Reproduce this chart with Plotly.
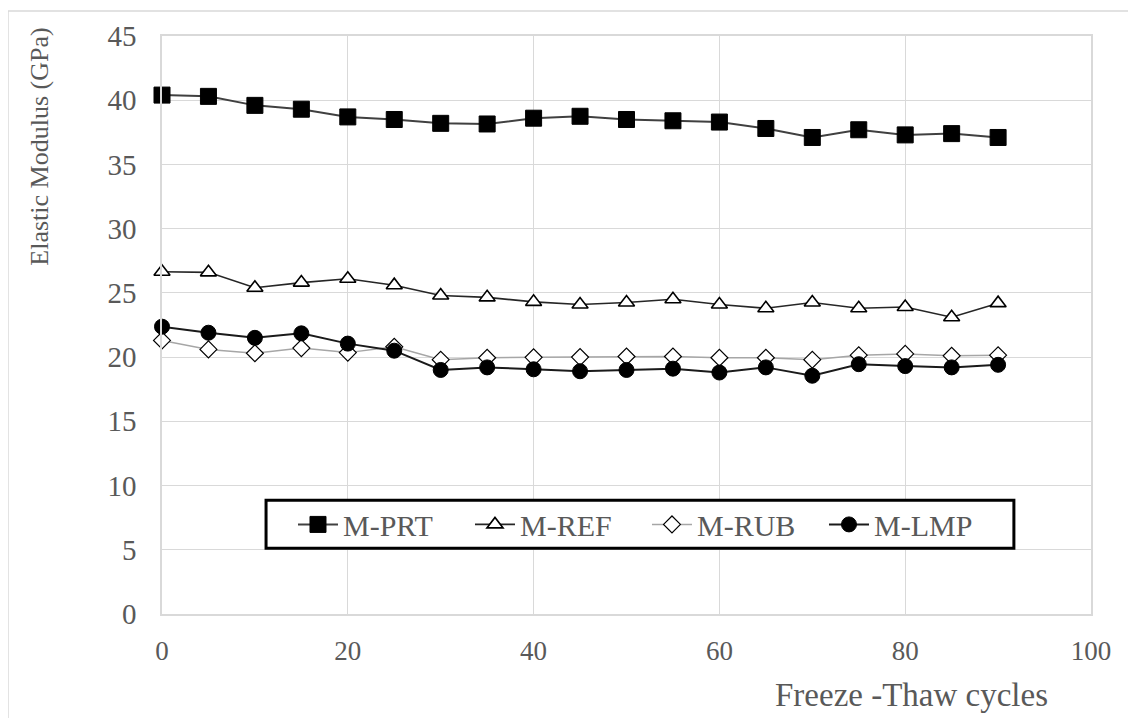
import plotly.graph_objects as go

cycles = [0, 5, 10, 15, 20, 25, 30, 35, 40, 45, 50, 55, 60, 65, 70, 75, 80, 85, 90]
m_prt = [40.4, 40.3, 39.6, 39.3, 38.7, 38.5, 38.2, 38.15, 38.6, 38.75, 38.5, 38.4, 38.3, 37.8, 37.1, 37.7, 37.3, 37.4, 37.1]
m_ref = [26.65, 26.6, 25.4, 25.8, 26.1, 25.6, 24.8, 24.65, 24.3, 24.1, 24.25, 24.5, 24.1, 23.8, 24.25, 23.8, 23.9, 23.1, 24.2]
m_rub = [21.3, 20.6, 20.3, 20.7, 20.35, 20.8, 19.8, 19.95, 19.98, 20.0, 20.05, 20.05, 19.95, 19.95, 19.8, 20.15, 20.25, 20.1, 20.15]
m_lmp = [22.37, 21.9, 21.5, 21.85, 21.05, 20.5, 19.0, 19.2, 19.05, 18.9, 19.0, 19.1, 18.8, 19.2, 18.55, 19.45, 19.3, 19.2, 19.4]

series_names = ["M-PRT", "M-REF", "M-RUB", "M-LMP"]
x_ticks = [0, 20, 40, 60, 80, 100]
y_ticks = [0, 5, 10, 15, 20, 25, 30, 35, 40, 45]

FONT = "Liberation Serif"
TXT = "#595959"
GRID = "#d9d9d9"

fig = go.Figure()
fig.add_trace(go.Scatter(
    x=cycles, y=m_prt, name=series_names[0], mode="lines+markers", cliponaxis=False,
    line=dict(color="#404040", width=2),
    marker=dict(symbol="square", size=16, color="black", line=dict(color="black", width=1))))
fig.add_trace(go.Scatter(
    x=cycles, y=m_ref, name=series_names[1], mode="lines+markers", cliponaxis=False,
    line=dict(color="#262626", width=1.6),
    marker=dict(symbol="triangle-up", size=14, color="white", line=dict(color="black", width=1.6))))
fig.add_trace(go.Scatter(
    x=cycles, y=m_rub, name=series_names[2], mode="lines+markers", cliponaxis=False,
    line=dict(color="#a6a6a6", width=1.5),
    marker=dict(symbol="diamond", size=13, color="white", line=dict(color="black", width=1.2))))
fig.add_trace(go.Scatter(
    x=cycles, y=m_lmp, name=series_names[3], mode="lines+markers", cliponaxis=False,
    line=dict(color="#1a1a1a", width=2),
    marker=dict(symbol="circle", size=15, color="black", line=dict(color="black", width=1))))

fig.update_layout(
    width=1128, height=710,
    margin=dict(l=154, r=45, t=26, b=104),
    paper_bgcolor="white", plot_bgcolor="white",
    font=dict(family=FONT, color=TXT),
    showlegend=True,
    legend=dict(
        orientation="h", x=0.141, y=0.155, xanchor="left", yanchor="middle",
        bgcolor="rgba(0,0,0,0)", borderwidth=0,
        font=dict(family=FONT, size=30, color=TXT),
        entrywidth=122, entrywidthmode="pixels",
        itemwidth=40,
    ),
    xaxis=dict(
        range=[0, 100], tickvals=x_ticks, showgrid=True, gridcolor=GRID, gridwidth=1.3,
        showline=True, linecolor=GRID, linewidth=1.5, mirror=True, zeroline=False,
        ticks="", tickfont=dict(family=FONT, size=27, color=TXT), ticklabelstandoff=12,
    ),
    yaxis=dict(
        range=[0, 45], tickvals=y_ticks, showgrid=True, gridcolor=GRID, gridwidth=1.3,
        showline=True, linecolor=GRID, linewidth=1.5, mirror=True, zeroline=False,
        ticks="", tickfont=dict(family=FONT, size=29, color=TXT), ticklabelstandoff=18,
    ),
    annotations=[
        dict(text="Elastic Modulus (GPa)", xref="paper", yref="paper", x=-0.1313, y=0.8086,
             textangle=-90, showarrow=False, xanchor="center", yanchor="middle",
             font=dict(family=FONT, size=26, color=TXT)),
        dict(text="Freeze -Thaw cycles", xref="paper", yref="paper", x=0.807, y=-0.1397,
             showarrow=False, xanchor="center", yanchor="middle",
             font=dict(family=FONT, size=33, color=TXT)),
    ],
    shapes=[
        dict(type="rect", xref="paper", yref="paper", x0=-0.1658, y0=-0.4, x1=1.3, y1=1.0431,
             line=dict(color=GRID, width=1.5), fillcolor="rgba(0,0,0,0)", layer="below"),
        dict(type="rect", xref="paper", yref="paper", x0=0.112, y0=0.1138, x1=0.917, y1=0.1966,
             line=dict(color="black", width=3), fillcolor="white", layer="above"),
    ],
)

fig.write_html("out.html")
